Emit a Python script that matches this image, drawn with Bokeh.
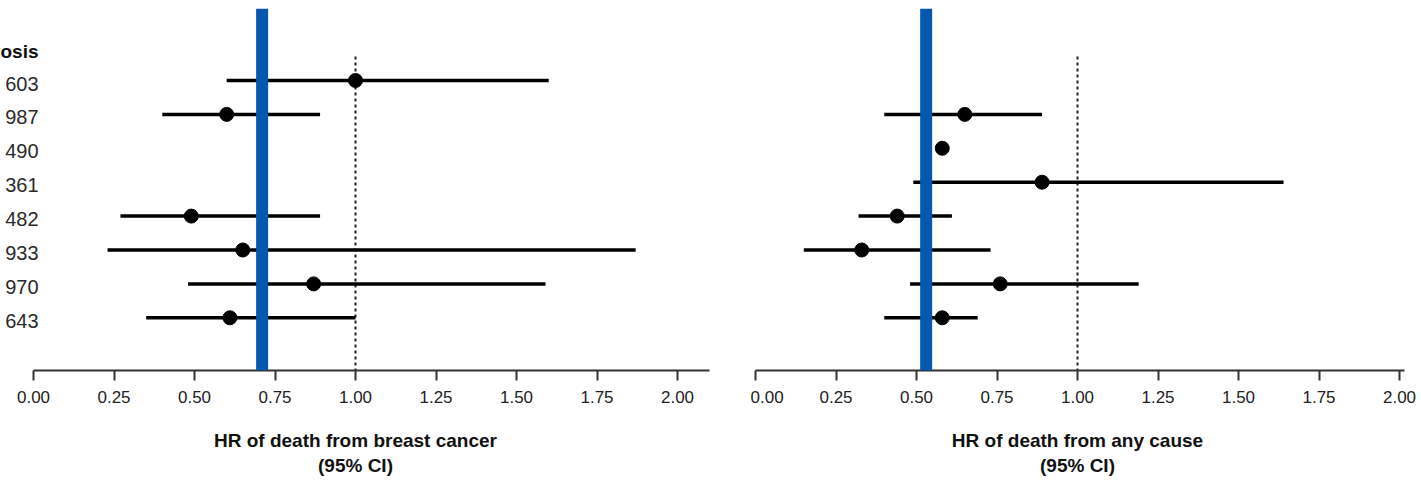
import numpy as np
from bokeh.plotting import figure
from bokeh.layouts import row
from bokeh.models import Span, Range1d, FixedTicker, ColumnDataSource, CustomJSTickFormatter
from bokeh.core.properties import value
from bokeh.embed import file_html
from bokeh.resources import INLINE

# ---------------- data ----------------
row_pos = [1, 2, 3, 4, 5, 6, 7, 8]
row_labels = ["603", "987", "490", "361", "482", "933", "970", "643"]
header_label = "osis"
tick_values = [0.0, 0.25, 0.5, 0.75, 1.0, 1.25, 1.5, 1.75, 2.0]

# HR of death from breast cancer
bc_hr = [1.00, 0.60, None, None, 0.49, 0.65, 0.87, 0.61]
bc_lo = [0.60, 0.40, None, None, 0.27, 0.23, 0.48, 0.35]
bc_hi = [1.60, 0.89, None, None, 0.89, 1.87, 1.59, 1.00]
bc_pooled = 0.71
bc_title = "HR of death from breast cancer\n(95% CI)"

# HR of death from any cause
ac_hr = [None, 0.65, 0.58, 0.89, 0.44, 0.33, 0.76, 0.58]
ac_lo = [None, 0.40, None, 0.49, 0.32, 0.15, 0.48, 0.40]
ac_hi = [None, 0.89, None, 1.64, 0.61, 0.73, 1.19, 0.69]
ac_pooled = 0.53
ac_title = "HR of death from any cause\n(95% CI)"

null_value = 1.0

FONT = "Liberation Sans"
BLUE = "#0558b0"
Y_TOP, Y_BOT = -1.124, 9.555
REF_TOP = 0.29


def make_panel(hr, lo, hi, pooled, title, x_start, x_end, width, border_right, labels, bounds_end):
    p = figure(width=width, height=483, output_backend="svg", toolbar_location=None,
               x_range=Range1d(x_start, x_end), y_range=Range1d(Y_BOT, Y_TOP),
               min_border_left=0, min_border_right=border_right, min_border_top=8,
               min_border_bottom=113, y_axis_location=None)
    p.outline_line_color = None
    p.grid.visible = False
    p.background_fill_color = "white"
    p.border_fill_color = "white"

    # reference line
    p.segment(x0=[null_value], y0=[REF_TOP], x1=[null_value], y1=[Y_BOT],
              line_color="#222222", line_width=2, line_dash="3 3")

    ci = [(r, l, h) for r, l, h in zip(row_pos, lo, hi) if l is not None and h is not None]
    src_ci = ColumnDataSource(dict(y=[c[0] for c in ci], lo=[c[1] for c in ci], hi=[c[2] for c in ci]))
    p.segment(x0="lo", y0="y", x1="hi", y1="y", source=src_ci, line_color="black", line_width=3.5)

    pts = [(r, v) for r, v in zip(row_pos, hr) if v is not None]
    src_pt = ColumnDataSource(dict(y=[c[0] for c in pts], x=[c[1] for c in pts]))
    p.scatter(x="x", y="y", source=src_pt, size=14, fill_color="black", line_color="black")

    p.add_layout(Span(location=pooled, dimension="height", line_color=BLUE, line_width=12))

    if labels:
        lx = (38 - 33) / 322
        p.text(x=[lx] * len(row_pos), y=row_pos, text=row_labels, text_align="right",
               text_baseline="middle", text_font=value(FONT), text_font_size="20px",
               text_color="#2a2a2a", y_offset=3)
        p.text(x=[lx], y=[0.0], text=[header_label], text_align="right", text_baseline="middle",
               text_font=value(FONT), text_font_size="19px", text_font_style="bold",
               text_color="#111111", y_offset=5)

    ax = p.xaxis[0]
    ax.bounds = (0, bounds_end)
    ax.ticker = FixedTicker(ticks=tick_values)
    ax.formatter = CustomJSTickFormatter(code="return tick.toFixed(2);")
    ax.axis_line_width = 2
    ax.axis_line_color = "#333333"
    ax.major_tick_line_width = 2
    ax.major_tick_line_color = "#333333"
    ax.major_tick_out = 10
    ax.major_tick_in = 0
    ax.minor_tick_line_color = None
    ax.major_label_text_font = FONT
    ax.major_label_text_font_size = "17px"
    ax.major_label_text_color = "#222222"
    ax.major_label_standoff = 10
    ax.axis_label = title
    ax.axis_label_text_font = FONT
    ax.axis_label_text_font_size = "19px"
    ax.axis_label_text_font_style = "bold"
    ax.axis_label_text_color = "#111111"
    ax.axis_label_standoff = 24
    return p


# left frame spans page x 0..710 (0.00 at x=33, 322 px per unit)
left = make_panel(bc_hr, bc_lo, bc_hi, bc_pooled, bc_title,
                  (0 - 33) / 322, (710 - 33) / 322, 750, 40, True, 2.1)
# right frame spans page x 750..1404 (0.00 at x=755)
right = make_panel(ac_hr, ac_lo, ac_hi, ac_pooled, ac_title,
                   (750 - 755) / 322, (1404 - 755) / 322, 671, 17, False, 2.1)

layout = row(left, right)
open("out.html", "w").write(file_html(layout, INLINE))
